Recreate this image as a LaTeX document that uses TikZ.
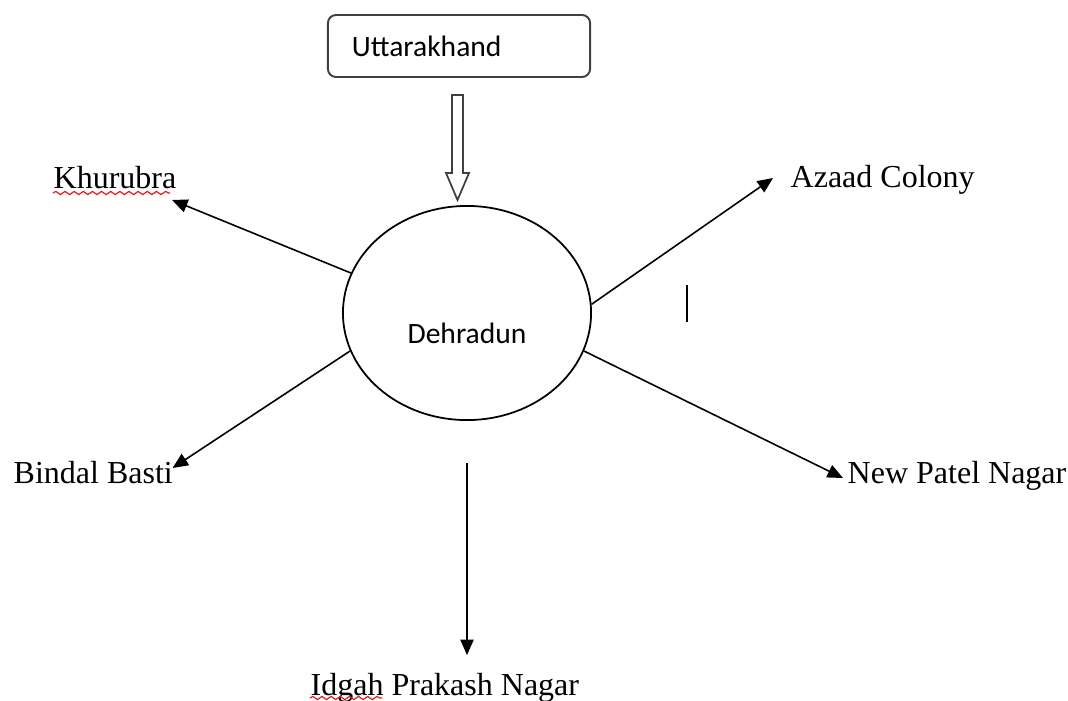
\documentclass[tikz,border=0pt]{standalone}
\usepackage{fontspec}
\setmainfont{Liberation Serif}
\newfontfamily\calibri{Carlito}
\usetikzlibrary{arrows.meta,shapes.geometric,decorations.pathmorphing}
\definecolor{boxgray}{RGB}{64,64,64}
\definecolor{spellred}{RGB}{228,30,30}

\begin{document}
\begin{tikzpicture}[x=0.01cm,y=-0.01cm,
    place/.style={font=\fontsize{9.1}{11}\selectfont,inner sep=0pt,anchor=base west},
    link/.style={line width=0.45pt,-{Triangle[length=4.4pt,width=3.8pt]}},
    typo/.style={spellred,line width=0.35pt,decorate,decoration={snake,amplitude=0.45pt,segment length=2.6pt}}]
    \useasboundingbox (0,0) rectangle (1068,700);

    \node[draw=boxgray,line width=0.55pt,rounded corners=2.3pt,minimum height=0.62cm,inner xsep=0.24cm,inner ysep=0pt,text width=2.14cm,align=left,font=\calibri\fontsize{8.4}{10}\selectfont] (state) at (459,46) {Uttarakhand};
    \node[ellipse,draw,line width=0.5pt,minimum width=2.48cm,minimum height=2.14cm,inner sep=0pt,
          label={[font=\calibri\fontsize{8.4}{10}\selectfont,yshift=-0.2cm]center:Dehradun}] (dd) at (467,313) {};

    \node[place] (khur) at (53,188) {Khurubra};
    \node[place] (azaad) at (790,187) {Azaad Colony};
    \node[place] (bindal) at (13,483) {Bindal Basti};
    \node[place] (patel) at (847,483) {New Patel Nagar};
    \node[place] (idgah) at (310,695) {Idgah Prakash Nagar};

    % hollow arrow from the state box
    \coordinate (flow) at (452,95);
    \draw[line width=0.5pt,boxgray] (flow) -- ++(11,0) -- ++(0,78) -- ++(6,0) -- ++(-11.5,27) -- ++(-11.5,-27) -- ++(6,0) -- cycle;

    \draw[link] (dd.161) -- ([shift={(-5,12)}]khur.base east);
    \draw[link] (dd.4) -- ([shift={(-17,-9)}]azaad.base west);
    \draw[link] (dd.198) -- ([shift={(-1,-15)}]bindal.base east);
    \draw[link] (dd.342) -- ([shift={(-4,-5)}]patel.base west);
    \draw[link] ([shift={(0,42)}]dd.south) -- ([shift={(157,-40)}]idgah.base west);

    % stray caret
    \coordinate (caret) at (687,285);
    \draw[line width=0.5pt] (caret) -- ++(0,37);

    % spelling marks
    \draw[typo] ([shift={(0,5)}]khur.base west) -- ([shift={(-7,5)}]khur.base east);
    \draw[typo] ([shift={(0,3)}]idgah.base west) -- ++(72,0);
\end{tikzpicture}
\end{document}
